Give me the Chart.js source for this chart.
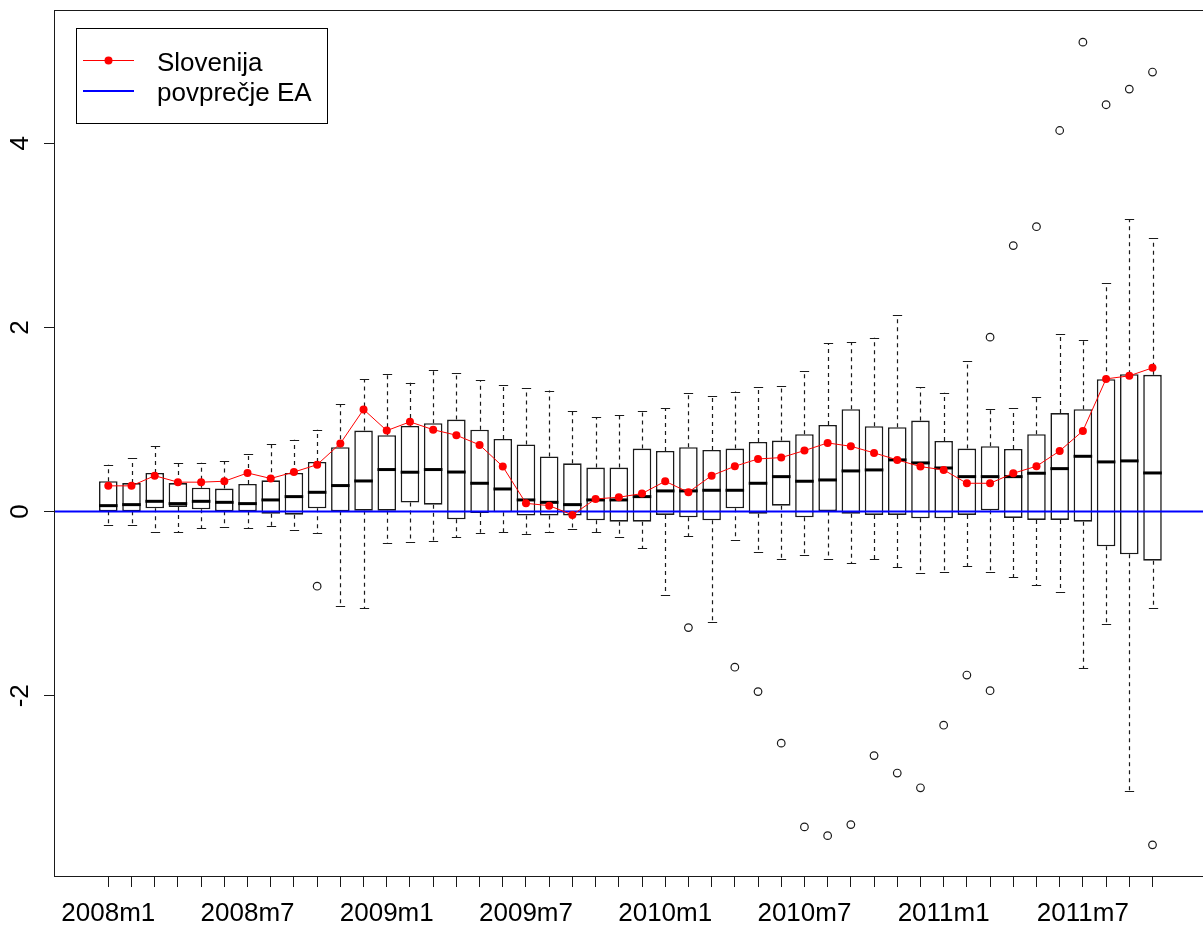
<!DOCTYPE html>
<html>
<head>
<meta charset="utf-8">
<script src="https://cdn.jsdelivr.net/npm/chart.js@4.4.1/dist/chart.umd.min.js"></script>
<style>
  html, body { margin: 0; padding: 0; overflow: hidden; background: #fff; }
  #wrap { width: 1212px; height: 927px; }
</style>
</head>
<body>
<div id="wrap"><canvas id="chart" width="1212" height="927"></canvas></div>
<script>
// months on the x axis
const months = [
  '2008m1','2008m2','2008m3','2008m4','2008m5','2008m6','2008m7','2008m8','2008m9','2008m10','2008m11','2008m12',
  '2009m1','2009m2','2009m3','2009m4','2009m5','2009m6','2009m7','2009m8','2009m9','2009m10','2009m11','2009m12',
  '2010m1','2010m2','2010m3','2010m4','2010m5','2010m6','2010m7','2010m8','2010m9','2010m10','2010m11','2010m12',
  '2011m1','2011m2','2011m3','2011m4','2011m5','2011m6','2011m7','2011m8','2011m9','2011m10'
];
const tickLabels = ['2008m1','2008m7','2009m1','2009m7','2010m1','2010m7','2011m1','2011m7'];
const yTicks = [-2, 0, 2, 4];

// box plot statistics per month
const whiskerLow = [-0.14,-0.15,-0.22,-0.22,-0.18,-0.17,-0.18,-0.16,-0.20,-0.23,-1.02,-1.05,-0.34,-0.33,-0.315,-0.28,
  -0.23,-0.22,-0.24,-0.22,-0.19,-0.22,-0.275,-0.40,-0.91,-0.27,-1.203,-0.31,-0.435,-0.518,-0.475,-0.518,-0.558,-0.518,
  -0.605,-0.667,-0.656,-0.594,-0.655,-0.714,-0.801,-0.873,-1.70,-1.225,-3.035,-1.043];
const q1 = [0.003,0.003,0.036,0.051,0.025,0.003,0.003,-0.022,-0.033,0.036,0.003,0.01,0.01,0.098,0.076,-0.083,
  -0.014,-0.007,-0.043,-0.043,-0.043,-0.094,-0.109,-0.109,-0.036,-0.062,-0.094,0.036,-0.022,0.065,-0.062,0.0,-0.022,-0.036,
  -0.036,-0.072,-0.072,-0.036,0.014,-0.069,-0.09,-0.09,-0.109,-0.377,-0.464,-0.533];
const median = [0.065,0.076,0.112,0.087,0.112,0.101,0.087,0.127,0.163,0.21,0.283,0.333,0.457,0.428,0.457,0.43,
  0.308,0.246,0.127,0.101,0.076,0.127,0.127,0.163,0.225,0.225,0.232,0.232,0.308,0.38,0.33,0.344,0.442,0.453,
  0.562,0.529,0.474,0.38,0.38,0.38,0.417,0.467,0.601,0.54,0.551,0.42];
const q3 = [0.33,0.31,0.42,0.31,0.26,0.25,0.30,0.34,0.42,0.54,0.70,0.88,0.83,0.93,0.96,1.0,
  0.89,0.79,0.73,0.60,0.525,0.478,0.478,0.685,0.659,0.70,0.67,0.685,0.757,0.772,0.841,0.942,1.112,0.928,
  0.917,0.989,0.768,0.685,0.71,0.681,0.841,1.07,1.112,1.438,1.493,1.486];
const whiskerHigh = [0.51,0.58,0.71,0.53,0.53,0.55,0.63,0.74,0.78,0.89,1.17,1.44,1.49,1.40,1.54,1.51,
  1.43,1.38,1.34,1.315,1.094,1.025,1.047,1.094,1.123,1.29,1.254,1.304,1.351,1.366,1.525,1.83,1.84,1.888,
  2.134,1.351,1.29,1.641,1.112,1.123,1.246,1.93,1.862,2.48,3.18,2.967];

// outliers (month number, value)
const outlierMonth = [10,26,28,29,30,31,32,33,34,35,36,37,38,39,39,40,41,42,43,44,45,46,46];
const outlierValue = [-0.81,-1.26,-1.69,-1.955,-2.515,-3.425,-3.52,-3.40,-2.65,-2.84,-3.00,-2.32,-1.775,-1.945,1.895,
  2.89,3.095,4.14,5.10,4.42,4.59,4.775,-3.62];

// Slovenia series
const slovenija = [0.28,0.28,0.39,0.32,0.32,0.33,0.42,0.36,0.43,0.51,0.74,1.11,0.88,0.975,0.89,0.83,
  0.725,0.49,0.09,0.065,-0.036,0.138,0.156,0.196,0.33,0.21,0.391,0.493,0.572,0.587,0.663,0.746,0.71,0.638,
  0.562,0.489,0.453,0.308,0.308,0.417,0.493,0.659,0.877,1.442,1.475,1.562];
const eaAverage = 0;
const legendLabels = ['Slovenija', 'povprečje EA'];

const FONT = "'Liberation Sans', Arial, sans-serif";
const INK = '#1a1a1a';

const boxExtras = {
  id: 'boxExtras',
  beforeDatasetsDraw(chart) {
    const { ctx, scales: { x, y } } = chart;
    const staple = (x.getPixelForValue(1.2) - x.getPixelForValue(1));
    ctx.save();
    ctx.strokeStyle = INK;
    ctx.lineWidth = 1.2;
    months.forEach((m, i) => {
      const px = Math.round(x.getPixelForValue(i + 1)) + 0.5;
      ctx.setLineDash([4, 4]);
      ctx.beginPath();
      ctx.moveTo(px, y.getPixelForValue(q3[i]));
      ctx.lineTo(px, y.getPixelForValue(whiskerHigh[i]));
      ctx.moveTo(px, y.getPixelForValue(q1[i]));
      ctx.lineTo(px, y.getPixelForValue(whiskerLow[i]));
      ctx.stroke();
      ctx.setLineDash([]);
      ctx.beginPath();
      const yh = Math.round(y.getPixelForValue(whiskerHigh[i])) + 0.5;
      const yl = Math.round(y.getPixelForValue(whiskerLow[i])) + 0.5;
      ctx.moveTo(px - staple, yh); ctx.lineTo(px + staple, yh);
      ctx.moveTo(px - staple, yl); ctx.lineTo(px + staple, yl);
      ctx.stroke();
    });
    ctx.restore();
  },
  afterDatasetDraw(chart, args) {
    if (args.index !== 0) return;
    const { ctx, chartArea, scales: { x, y } } = chart;
    const half = (x.getPixelForValue(1.4) - x.getPixelForValue(1));
    ctx.save();
    ctx.strokeStyle = '#000';
    ctx.lineWidth = 3;
    ctx.lineCap = 'butt';
    median.forEach((v, i) => {
      const px = x.getPixelForValue(i + 1);
      const py = y.getPixelForValue(v);
      ctx.beginPath();
      ctx.moveTo(px - half, py);
      ctx.lineTo(px + half, py);
      ctx.stroke();
    });
    // EA average
    const ya = y.getPixelForValue(eaAverage);
    ctx.strokeStyle = '#0000ff';
    ctx.lineWidth = 2;
    ctx.beginPath();
    ctx.moveTo(chartArea.left, ya);
    ctx.lineTo(chartArea.right, ya);
    ctx.stroke();
    ctx.restore();
  },
  afterDraw(chart) {
    const { ctx, chartArea, scales: { y } } = chart;
    ctx.save();
    ctx.strokeStyle = INK;
    ctx.lineWidth = 1;
    ctx.strokeRect(chartArea.left + 0.5, chartArea.top + 0.5,
      chartArea.right - chartArea.left - 1, chartArea.bottom - chartArea.top - 1);

    // rotated y tick labels
    ctx.fillStyle = '#000';
    ctx.font = '26px ' + FONT;
    ctx.textAlign = 'center';
    ctx.textBaseline = 'middle';
    yTicks.forEach(v => {
      ctx.save();
      ctx.translate(21, y.getPixelForValue(v));
      ctx.rotate(-Math.PI / 2);
      ctx.fillText(String(v), 0, 0);
      ctx.restore();
    });

    // legend
    ctx.strokeStyle = '#000';
    ctx.strokeRect(76.5, 28.5, 251, 95);
    ctx.strokeStyle = 'red';
    ctx.lineWidth = 1;
    ctx.beginPath(); ctx.moveTo(83, 60.5); ctx.lineTo(134, 60.5); ctx.stroke();
    ctx.fillStyle = 'red';
    ctx.beginPath(); ctx.arc(108.5, 60.5, 4, 0, Math.PI * 2); ctx.fill();
    ctx.strokeStyle = '#0000ff';
    ctx.lineWidth = 2;
    ctx.beginPath(); ctx.moveTo(83, 91); ctx.lineTo(134, 91); ctx.stroke();
    ctx.fillStyle = '#000';
    ctx.textAlign = 'left';
    ctx.textBaseline = 'alphabetic';
    ctx.fillText(legendLabels[0], 157, 71);
    ctx.fillText(legendLabels[1], 157, 101);
    ctx.restore();
  }
};

const ctx = document.getElementById('chart').getContext('2d');
new Chart(ctx, {
  type: 'bar',
  data: {
    datasets: [
      {
        type: 'bar',
        data: months.map((m, i) => ({ x: i + 1, y: [q1[i], q3[i]] })),
        backgroundColor: '#ffffff',
        borderColor: INK,
        borderWidth: 1.6,
        borderSkipped: false,
        categoryPercentage: 0.8,
        barPercentage: 1.0,
        order: 3
      },
      {
        type: 'scatter',
        data: outlierMonth.map((m, i) => ({ x: m, y: outlierValue[i] })),
        pointStyle: 'circle',
        pointRadius: 3.8,
        pointBorderWidth: 1.2,
        pointBorderColor: INK,
        pointBackgroundColor: 'rgba(255,255,255,0)',
        order: 2
      },
      {
        type: 'line',
        data: months.map((m, i) => ({ x: i + 1, y: slovenija[i] })),
        borderColor: 'red',
        borderWidth: 1,
        pointRadius: 4,
        pointBorderWidth: 0,
        pointBackgroundColor: 'red',
        tension: 0,
        order: 1
      }
    ]
  },
  options: {
    responsive: false,
    animation: false,
    devicePixelRatio: 1,
    layout: { padding: { top: 10, right: 3, left: 0, bottom: 0 } },
    plugins: { legend: { display: false }, tooltip: { enabled: false } },
    events: [],
    scales: {
      x: {
        type: 'linear',
        min: -1.34,
        max: 48.34,
        offset: false,
        afterBuildTicks: scale => { scale.ticks = months.map((m, i) => ({ value: i + 1 })); },
        afterFit: scale => { scale.height = 50; },
        ticks: {
          autoSkip: false,
          maxRotation: 0,
          minRotation: 0,
          padding: 11,
          color: '#000',
          font: { family: FONT, size: 26 },
          callback: (value, index) => tickLabels.includes(months[index]) ? months[index] : ''
        },
        grid: { display: true, offset: false, drawOnChartArea: false, tickLength: 10, tickColor: INK },
        border: { display: false }
      },
      y: {
        min: -3.969,
        max: 5.449,
        afterBuildTicks: scale => { scale.ticks = yTicks.map(v => ({ value: v })); },
        afterFit: scale => { scale.width = 54; },
        ticks: { display: false },
        grid: { display: true, drawOnChartArea: false, tickLength: 10, tickColor: INK },
        border: { display: false }
      }
    }
  },
  plugins: [boxExtras]
});
</script>
</body>
</html>
